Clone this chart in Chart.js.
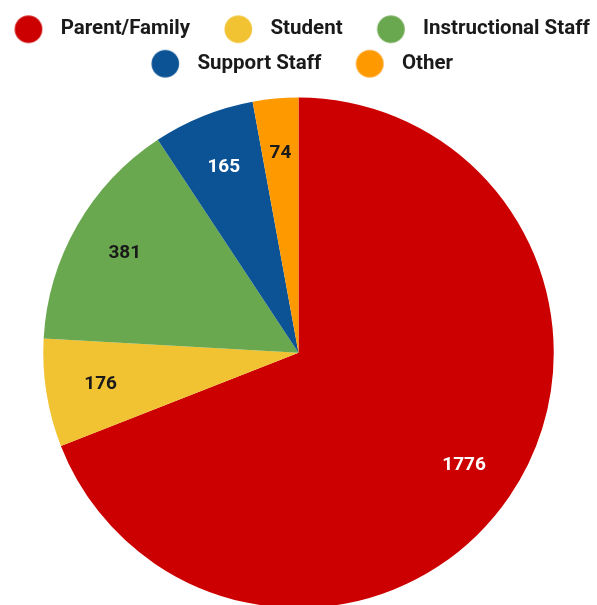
<!DOCTYPE html>
<html>
<head>
<meta charset="utf-8">
<script src="https://cdn.jsdelivr.net/npm/chart.js@4.4.1/dist/chart.umd.min.js"></script>
<style>
  html, body { margin: 0; padding: 0; background: #fff; overflow: hidden; }
  #wrap { position: relative; width: 597px; height: 608px; }
</style>
</head>
<body>
<div id="wrap"><canvas id="pieChart"></canvas></div>
<script>
// date grafic
const categories = ["Parent/Family", "Student", "Instructional Staff", "Support Staff", "Other"];
const values = [1776, 176, 381, 165, 74];
const colors = ["#cc0000", "#f1c232", "#6aa84f", "#0b5394", "#ff9900"];
const labelColors = ["#ffffff", "#1a1a1a", "#1a1a1a", "#ffffff", "#1a1a1a"];

// cerc colorat pentru legenda (deplasat spre dreapta in caseta)
function makeDot(color) {
  const c = document.createElement("canvas");
  c.width = 70;
  c.height = 30;
  const g = c.getContext("2d");
  g.fillStyle = color;
  g.beginPath();
  g.arc(41.2, 15, 13.8, 0, Math.PI * 2);
  g.fill();
  return c;
}
const dots = colors.map(makeDot);

// etichete cu valori in interiorul feliilor
const sliceLabels = {
  id: "sliceLabels",
  afterLayout(chart) {
    // legenda: putin mai jos si centrata dupa partea vizibila
    const lg = chart.legend;
    lg.top += 5;
    lg.bottom += 5;
    lg.left = -34;
    lg.right = 618;
  },
  afterDatasetsDraw(chart) {
    const ctx = chart.ctx;
    const meta = chart.getDatasetMeta(0);
    ctx.save();
    ctx.font = "bold 19px Roboto";
    ctx.textAlign = "center";
    ctx.textBaseline = "middle";
    meta.data.forEach((arc, i) => {
      const p = arc.getProps(["x", "y", "startAngle", "endAngle", "outerRadius"], true);
      const mid = (p.startAngle + p.endAngle) / 2;
      const r = p.outerRadius * 0.785;
      ctx.fillStyle = labelColors[i];
      ctx.fillText(String(values[i]), p.x + Math.cos(mid) * r, p.y + Math.sin(mid) * r);
    });
    ctx.restore();
  }
};

const baseLabels = Chart.overrides.doughnut.plugins.legend.labels.generateLabels;

const chart = new Chart(document.getElementById("pieChart"), {
  type: "pie",
  data: {
    labels: categories,
    datasets: [{
      data: values,
      backgroundColor: colors,
      borderWidth: 0
    }]
  },
  options: {
    responsive: true,
    maintainAspectRatio: false,
    animation: false,
    layout: { padding: 0 },
    plugins: {
      tooltip: { enabled: false },
      legend: {
        position: "top",
        labels: {
          usePointStyle: true,
          pointStyleWidth: 56.25,
          padding: 14,
          color: "#1a1a1a",
          font: { family: "Roboto", size: 20.5, weight: "bold" },
          generateLabels(ch) {
            const items = baseLabels(ch);
            items.forEach((it, i) => { it.pointStyle = dots[i]; });
            return items;
          }
        }
      }
    }
  },
  plugins: [sliceLabels]
});

// legenda mai lata (sa incapa 3 pe rand) si mai inalta, ca placinta sa inceapa la y=98
const origFit = chart.legend.fit;
chart.legend.fit = function () {
  this.maxWidth = Math.max(this.maxWidth, 660);
  origFit.call(this);
  this.width = 597;
  this.height += 18.5;
};
chart.update();
</script>
</body>
</html>
